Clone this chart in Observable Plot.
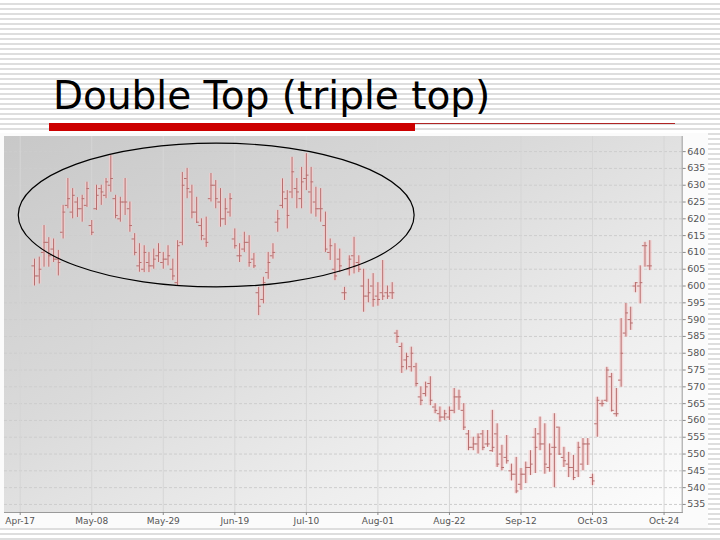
<!DOCTYPE html>
<html>
<head>
<meta charset="utf-8">
<script src="https://cdn.jsdelivr.net/npm/d3@7"></script>
<script src="https://cdn.jsdelivr.net/npm/@observablehq/plot@0.6"></script>
<style>
html,body{margin:0;padding:0;}
body{width:720px;height:540px;position:relative;overflow:hidden;
  background:repeating-linear-gradient(to bottom,#ffffff 0px,#ffffff 3px,#dedede 3px,#dedede 5px);}
#title{position:absolute;left:53px;top:76px;font-family:"DejaVu Sans",sans-serif;font-size:39px;line-height:1;color:#000;white-space:nowrap;}
#redbar{position:absolute;left:49px;top:123px;width:366px;height:8px;background:#cc0000;}
#redline{position:absolute;left:415px;top:123px;width:260px;height:1px;background:#b02525;}
#panel{position:absolute;left:0;top:133px;width:708px;height:395px;background:#fbfbfb;}
#plotbg{position:absolute;left:4px;top:136px;width:678px;height:376px;
  background:linear-gradient(to bottom right,#c8c8c8 0%,#dadada 40%,#ededed 70%,#fdfdfd 100%);}
#chart{position:absolute;left:4px;top:136px;}
</style>
</head>
<body>
<div id="title">Double Top (triple top)</div>
<div id="redbar"></div>
<div id="redline"></div>
<div id="panel"></div>
<div id="plotbg"></div>
<div id="chart"></div>
<script>
// OHLC values by trading-day index
const high = [608,608.6,618,614.4,614,610.6,624,632,629,626.3,627,630.9,619.5,630,630,632,638.8,627,626.4,632,
625,615.6,612.6,612,610,611,612.6,610,612,608,613.5,633.8,635,630,626.4,620,620.5,633.5,631.4,629,
626,627.5,617,612.6,616,615,609.7,599.6,602.6,610,612.6,622.5,631.9,628.4,638.3,632,635.3,639.4,635.3,629.4,
629,622,614,612.6,611,599.6,609,614.5,609,605,602,603.7,601,607.6,600,601,586.8,583,580,581.8,
577,570,571.4,573,565,564,563,564,569.5,569,565,557,555,556,557,557,563,559,552.6,555.5,
547,549,545.7,547.6,551,557.6,561,559,553,562,558,552,550.5,549.6,553.5,554.6,554.6,544,566.9,566,
575.8,574,569.5,590.3,594.8,593.7,601,606,613,613.5];
const low = [600,600.6,605.6,605.6,607,603,614,623,620,620.4,619,623.4,615,622.5,624,626,627.9,620,619,621,
616,609,604.1,604,604,605,607,605,606,601.6,600,612,626,620,618.6,613.5,611.5,625,623,617.5,
618,620.5,611,607,610,605.6,605.2,591.2,594.7,602,608,616,623,617,626,623,623,628.4,621.4,620.5,
619,610,607.6,601.6,604,595.7,603,603.6,604,592.2,595,593.7,594,595.7,596,596,582.9,574,575,574.4,
570,564.4,567,564.4,562,559.5,560,560,562,563,557,551,551,550,551,552,550.5,546,545,547,
542,538.2,539.2,541.2,543.6,544.2,551,544,544.6,540,549.6,546,543,542.1,543,545,546.6,540.6,555,564,
565.4,562.5,561,569.9,584.8,586.8,598,594.7,605.6,604.6];
const open = [606,603,610,613,611,608,616,624,622,625,623,624,618,623,629,627,630,626,620,625,
623,614,606,605,607,606,609,607,608,605,601,613,632,628,622,618,614,626,630,625,
620,622,614,609,611,613,608,598,596,604,609,619,624,626,628,629,626,632,628,625,
623,618,610,605,608,598,605,609,607,600,597,600,597,598,598,598,586,582,578,576,
576,567,568,571,564,562,561,561,563,567,563,556,552,553,556,553,551,556,550,549,
545,544,541,544,546,555,556,553,546,552,558,549,547,546,545,547,553,543,559,565,
566,573,562,572,586,590,600,600,612,606];
const close = [603,605,613,609,608,607,622,626,627,623,626,629,616,627,628,631,632,621,625,625,
618,610,607,610,606,608,610,608,609,603,612,630,629,622,619,615,613,630,626,620,
623,626,612,609,613,607,606,594,601,607,610,620,628,621,634,628,631,633,631,623,
623,611,612,603,606,598,608,606,605,597,598,596,596,597,597,598,585,576,579,580,
571,566,570,566,563,561,562,563,567,567,558,552,553,555,552,553,552,547,546,548,
544,539,544,546,547,552,553,547,550,552,550,548,546,543,552,553,553,542,566,565,
575,563,562,580,592,589,601,601,612,606];

const yTicks = [535,540,545,550,555,560,565,570,575,580,585,590,595,600,605,610,615,620,625,630,635,640];
const xTickIndex = [-3,12,27,42,57,72,87,102,117,132];
const xTickLabels = ["Apr-17","May-08","May-29","Jun-19","Jul-10","Aug-01","Aug-22","Sep-12","Oct-03","Oct-24"];
// annotation ellipse in data units: [center index, center price, radius index, radius price]
const ellipseNote = [38.2, 621, 41.5, 21.4];

const bars = high.map((h, i) => ({k: i, high: h, low: low[i], open: open[i], close: close[i]}));

const barColor = "#b76f6f";
const chart = Plot.plot({
  width: 704,
  height: 392,
  marginLeft: 0,
  marginTop: 0,
  marginRight: 26.3,
  marginBottom: 16,
  style: {fontFamily: "DejaVu Sans, sans-serif", fontSize: "9px", color: "#555", background: "transparent", overflow: "visible"},
  x: {domain: [-6.29, 135.8]},
  y: {domain: [532.6, 644.5]},
  marks: [
    Plot.gridY(yTicks, {stroke: "#cdcdcd", strokeOpacity: 1, strokeDasharray: "3,2"}),
    Plot.gridX(xTickIndex, {stroke: "#d6d6d6", strokeOpacity: 1}),
    Plot.ruleX(bars, {x: "k", y1: "low", y2: "high", stroke: "#f7cccc", strokeWidth: 4, strokeOpacity: 0.65}),
    Plot.ruleX(bars, {x: "k", y1: "low", y2: "high", stroke: barColor, strokeWidth: 1}),
    Plot.ruleY(bars, {y: "open", x1: d => d.k - 0.55, x2: "k", stroke: barColor, strokeWidth: 1}),
    Plot.ruleY(bars, {y: "close", x1: "k", x2: d => d.k + 0.55, stroke: barColor, strokeWidth: 1}),
    Plot.frame({anchor: "bottom", stroke: "#9a9a9a"}),
    Plot.frame({anchor: "right", stroke: "#9a9a9a"}),
    Plot.axisY(yTicks, {anchor: "right", tickSize: 3, tickPadding: 2, fontSize: 9.5, label: null, stroke: "#888"}),
    Plot.axisX(xTickIndex, {anchor: "bottom", tickSize: 3, tickPadding: 2, label: null, stroke: "#888",
      tickFormat: d => xTickLabels[xTickIndex.indexOf(d)]})
  ]
});

const xs = chart.scale("x"), ys = chart.scale("y");
d3.select(chart).append("ellipse")
  .attr("cx", xs.apply(ellipseNote[0]))
  .attr("cy", ys.apply(ellipseNote[1]))
  .attr("rx", xs.apply(ellipseNote[0] + ellipseNote[2]) - xs.apply(ellipseNote[0]))
  .attr("ry", ys.apply(ellipseNote[1] - ellipseNote[3]) - ys.apply(ellipseNote[1]))
  .attr("fill", "none")
  .attr("stroke", "#000")
  .attr("stroke-width", 1.2);

document.getElementById("chart").appendChild(chart);
</script>
</body>
</html>
